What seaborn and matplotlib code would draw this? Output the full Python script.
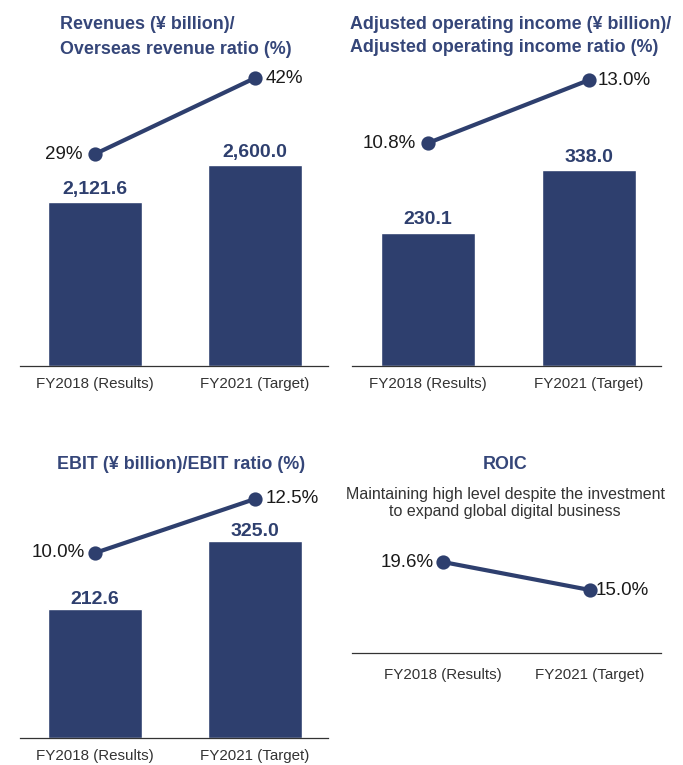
import matplotlib
matplotlib.use("Agg")
import matplotlib.pyplot as plt
import seaborn as sns
import pandas as pd

# ---------------- data ----------------
categories = ["FY2018 (Results)", "FY2021 (Target)"]

revenues = [2121.6, 2600.0]
revenue_labels = ["2,121.6", "2,600.0"]
overseas_ratio = [29, 42]
overseas_labels = ["29%", "42%"]

adj_op_income = [230.1, 338.0]
adj_op_labels = ["230.1", "338.0"]
adj_op_ratio = [10.8, 13.0]
adj_op_ratio_labels = ["10.8%", "13.0%"]

ebit = [212.6, 325.0]
ebit_labels = ["212.6", "325.0"]
ebit_ratio = [10.0, 12.5]
ebit_ratio_labels = ["10.0%", "12.5%"]

roic = [19.6, 15.0]
roic_labels = ["19.6%", "15.0%"]

titles = [
    "Revenues (¥ billion)/\nOverseas revenue ratio (%)",
    "Adjusted operating income (¥ billion)/\nAdjusted operating income ratio (%)",
    "EBIT (¥ billion)/EBIT ratio (%)",
    "ROIC",
]
roic_subtitle = "Maintaining high level despite the investment\nto expand global digital business"

# ---------------- style ----------------
sns.set_theme(style="white")
plt.rcParams["font.family"] = ["Liberation Sans", "DejaVu Sans"]

NAVY = "#2e3f6e"
TITLE_C = "#354679"
TEXT_C = "#1a1a1a"
GRAY = "#333333"

TITLE_FS = 12.9
PCT_FS = 13.5
VAL_FS = 14
TICK_FS = 10.9

W, H = 683, 765
fig = plt.figure(figsize=(W / 100, H / 100), dpi=100)


def rect(x0, y_top, x1, y_bot):
    return [x0 / W, 1 - y_bot / H, (x1 - x0) / W, (y_bot - y_top) / H]


def style_axis(ax):
    for s in ["top", "right", "left"]:
        ax.spines[s].set_visible(False)
    ax.spines["bottom"].set_color(GRAY)
    ax.spines["bottom"].set_linewidth(0.9)
    ax.set_yticks([])
    ax.set_ylabel("")
    ax.set_xlabel("")
    ax.tick_params(axis="x", length=0, pad=8, labelsize=TICK_FS, labelcolor=GRAY)


def bar_line_panel(r, xlim, bar_vals, bar_lbls, bar_ylim, ln_vals, ln_lbls, ln_ylim,
                   lbl_offsets, val_offset=3):
    ax = fig.add_axes(r)
    df = pd.DataFrame({"cat": categories, "val": bar_vals, "ratio": ln_vals})
    sns.barplot(data=df, x="cat", y="val", ax=ax, color=NAVY, width=0.5875,
                saturation=1)
    ax.set_ylim(*bar_ylim)
    style_axis(ax)
    for i, (v, t) in enumerate(zip(bar_vals, bar_lbls)):
        ax.annotate(t, (i, v), xytext=(0, val_offset), textcoords="offset points",
                    ha="center", va="bottom", fontsize=VAL_FS, fontweight="bold",
                    color=NAVY)
    ax2 = ax.twinx()
    sns.pointplot(data=df, x="cat", y="ratio", ax=ax2, color=NAVY,
                  markersize=8, linewidth=3)
    for c in ax2.get_children():
        try:
            c.set_clip_on(False)
        except Exception:
            pass
    ax2.set_ylim(*ln_ylim)
    for s in ax2.spines.values():
        s.set_visible(False)
    ax2.set_yticks([])
    ax2.set_ylabel("")
    ax2.set_xlabel("")
    for i, (v, t) in enumerate(zip(ln_vals, ln_lbls)):
        dx = lbl_offsets[i]
        ax2.annotate(t, (i, v), xytext=(dx, 0), textcoords="offset points",
                     ha="right" if dx < 0 else "left", va="center",
                     fontsize=PCT_FS, color=TEXT_C)
    ax.set_xlim(*xlim)
    return ax


# Panel 1
bar_line_panel(rect(20, 60, 328, 366), (-75 / 160, 1 + 73 / 160),
               revenues, revenue_labels, (0, 3958),
               overseas_ratio, overseas_labels, (-7.26, 45.08), (-9, 8))
fig.text(60 / W, 1 - 37 / H, titles[0], ha="left", va="center", fontsize=TITLE_FS,
         fontweight="bold", color=TITLE_C, linespacing=1.55)

# Panel 2
bar_line_panel(rect(352, 60, 661, 366), (-(428 - 352) / 161, 1 + (661 - 589) / 161),
               adj_op_income, adj_op_labels, (0, 527.7),
               adj_op_ratio, adj_op_ratio_labels, (3.013, 13.699), (-9, 6))
fig.text(350 / W, 1 - 36 / H, titles[1], ha="left", va="center", fontsize=TITLE_FS,
         fontweight="bold", color=TITLE_C, linespacing=1.45)

# Panel 3
bar_line_panel(rect(20, 470, 328, 738), (-75 / 160, 1 + 73 / 160),
               ebit, ebit_labels, (0, 442.1),
               ebit_ratio, ebit_ratio_labels, (1.435, 13.84), (-7, 8), val_offset=1)
fig.text(181 / W, 1 - 465 / H, titles[2], ha="center", va="center", fontsize=TITLE_FS,
         fontweight="bold", color=TITLE_C)

# Panel 4 (ROIC)
ax4 = fig.add_axes(rect(352, 530, 661, 653))
df4 = pd.DataFrame({"cat": categories, "roic": roic})
sns.pointplot(data=df4, x="cat", y="roic", ax=ax4, color=NAVY,
              markersize=8, linewidth=3)
ax4.set_ylim(4.65, 24.86)
style_axis(ax4)
ax4.tick_params(axis="x", pad=11)
for i, (v, t) in enumerate(zip(roic, roic_labels)):
    dx = -7 if i == 0 else 4
    ax4.annotate(t, (i, v), xytext=(dx, 0), textcoords="offset points",
                 ha="right" if dx < 0 else "left", va="center",
                 fontsize=PCT_FS, color=TEXT_C)
ax4.set_xlim(-(443 - 352) / 147, 1 + (661 - 590) / 147)
fig.text(505 / W, 1 - 465 / H, titles[3], ha="center", va="center", fontsize=TITLE_FS,
         fontweight="bold", color=TITLE_C)
fig.text(505 / W, 1 - 503 / H, roic_subtitle, ha="center", va="center",
         fontsize=11.5, color=GRAY, linespacing=1.2)

fig.savefig("out.png", dpi=100, facecolor="white")
